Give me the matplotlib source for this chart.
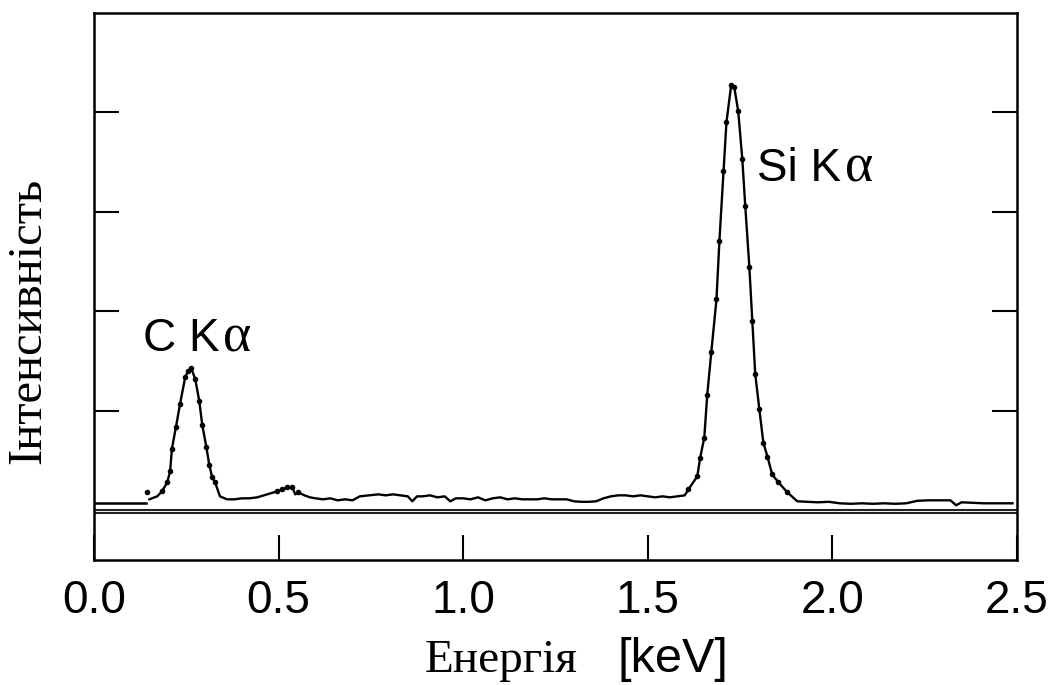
import matplotlib
matplotlib.use("Agg")
import matplotlib.pyplot as plt

# spectrum values (energy in keV, intensity in arb. units)
lead_energy = [0.0, 0.140]
lead_counts = [0.07, 0.07]
stray_energy = [0.144]
stray_counts = [0.18]

energy = [0.150, 0.157, 0.171, 0.184, 0.198, 0.206, 0.211, 0.222, 0.233, 0.247,
          0.255, 0.263, 0.274, 0.285, 0.293, 0.304, 0.312, 0.320, 0.328, 0.341,
          0.360, 0.380, 0.400, 0.420, 0.442, 0.469, 0.496, 0.510, 0.523, 0.537,
          0.545, 0.553, 0.570, 0.585, 0.600, 0.620, 0.640, 0.660, 0.680, 0.700,
          0.720, 0.745, 0.770, 0.790, 0.810, 0.830, 0.850, 0.862, 0.875, 0.890,
          0.910, 0.930, 0.950, 0.965, 0.980, 1.000, 1.020, 1.040, 1.060, 1.080,
          1.100, 1.120, 1.140, 1.160, 1.180, 1.200, 1.220, 1.240, 1.260, 1.280,
          1.300, 1.320, 1.340, 1.360, 1.380, 1.400, 1.420, 1.440, 1.460, 1.480,
          1.500, 1.520, 1.540, 1.560, 1.580, 1.600, 1.610, 1.634, 1.642, 1.653,
          1.661, 1.672, 1.686, 1.694, 1.705, 1.713, 1.726, 1.734, 1.745, 1.756,
          1.764, 1.775, 1.783, 1.791, 1.802, 1.813, 1.824, 1.837, 1.854, 1.878,
          1.905, 1.930, 1.960, 1.990, 2.020, 2.050, 2.080, 2.110, 2.140, 2.170,
          2.200, 2.230, 2.260, 2.290, 2.320, 2.335, 2.350, 2.380, 2.410, 2.440,
          2.488]
counts = [0.11, 0.12, 0.14, 0.19, 0.28, 0.39, 0.62, 0.84, 1.07, 1.34,
          1.40, 1.43, 1.32, 1.10, 0.86, 0.64, 0.46, 0.33, 0.28, 0.14,
          0.11, 0.11, 0.12, 0.12, 0.13, 0.16, 0.19, 0.21, 0.23, 0.23,
          0.16, 0.18, 0.15, 0.13, 0.12, 0.11, 0.12, 0.10, 0.11, 0.10,
          0.14, 0.15, 0.16, 0.15, 0.16, 0.15, 0.14, 0.09, 0.14, 0.14,
          0.15, 0.13, 0.14, 0.09, 0.12, 0.12, 0.11, 0.13, 0.10, 0.12,
          0.13, 0.11, 0.12, 0.11, 0.11, 0.11, 0.12, 0.11, 0.11, 0.11,
          0.09, 0.085, 0.085, 0.09, 0.12, 0.14, 0.15, 0.15, 0.14, 0.15,
          0.14, 0.13, 0.14, 0.13, 0.14, 0.15, 0.21, 0.34, 0.53, 0.73,
          1.16, 1.59, 2.12, 2.71, 3.41, 3.90, 4.28, 4.26, 4.01, 3.53,
          3.06, 2.45, 1.90, 1.37, 1.02, 0.68, 0.54, 0.36, 0.28, 0.18,
          0.09, 0.085, 0.08, 0.085, 0.07, 0.065, 0.07, 0.065, 0.07, 0.065,
          0.07, 0.095, 0.10, 0.10, 0.10, 0.05, 0.08, 0.075, 0.07, 0.07,
          0.07]

xticks = [0.0, 0.5, 1.0, 1.5, 2.0, 2.5]
xtick_labels = ["0.0", "0.5", "1.0", "1.5", "2.0", "2.5"]
yticks = [1, 2, 3, 4]

fig = plt.figure(figsize=(10.52, 6.85), dpi=100)
ax = fig.add_axes([0.0894, 0.1825, 0.8773, 0.7985])

sans = "Liberation Sans"
serif = "Liberation Serif"

# reference baseline (drawn double)
ax.axhline(0.0, color="#222222", lw=1.5, zorder=1)
ax.axhline(-0.025, color="#222222", lw=1.5, zorder=1)

# dots only show up on the peaks, the flat part is just a thick trace
show_dot = [c > 0.17 for c in counts]
ax.plot(lead_energy, lead_counts, color="black", lw=1.8)
ax.plot(stray_energy, stray_counts, "o", color="black", ms=3)
ax.plot(energy, counts, color="black", lw=1.7, marker="o", ms=3,
        markevery=show_dot)


def peak_label(x, y, name):
    t = ax.text(x, y, name, fontsize=33, family=sans, va="baseline")
    fig.canvas.draw()
    bb = t.get_window_extent()
    xd = ax.transData.inverted().transform((bb.x1 - 4, 0))[0]
    ax.text(xd, y, "\u03b1", fontsize=39, family=serif, va="baseline")


peak_label(0.133, 1.6, "C K")
peak_label(1.797, 3.31, "Si K")

ax.set_xlim(0, 2.5)
ax.set_ylim(-0.5, 5.0)
ax.set_xticks(xticks)
ax.set_xticklabels(xtick_labels, fontsize=33, family=sans)
ax.set_yticks(yticks)
ax.set_yticklabels([])
ax.tick_params(axis="x", direction="in", length=18, width=1.5, pad=14, top=False)
ax.tick_params(axis="y", direction="in", length=18, width=1.5, left=True, right=True)
for s in ax.spines.values():
    s.set_linewidth(1.8)

fig.text(28 / 1052, 1 - 321 / 685, "Інтенсивність", rotation=90, fontsize=35,
         family=serif, ha="center", va="center")
fig.text(501 / 1052, 1 - 672 / 685, "Енергія", fontsize=34, family=serif,
         ha="center", va="baseline")
fig.text(673 / 1052, 1 - 672 / 685, "[keV]", fontsize=35, family=sans,
         ha="center", va="baseline")

fig.savefig("out.png", dpi=100)
